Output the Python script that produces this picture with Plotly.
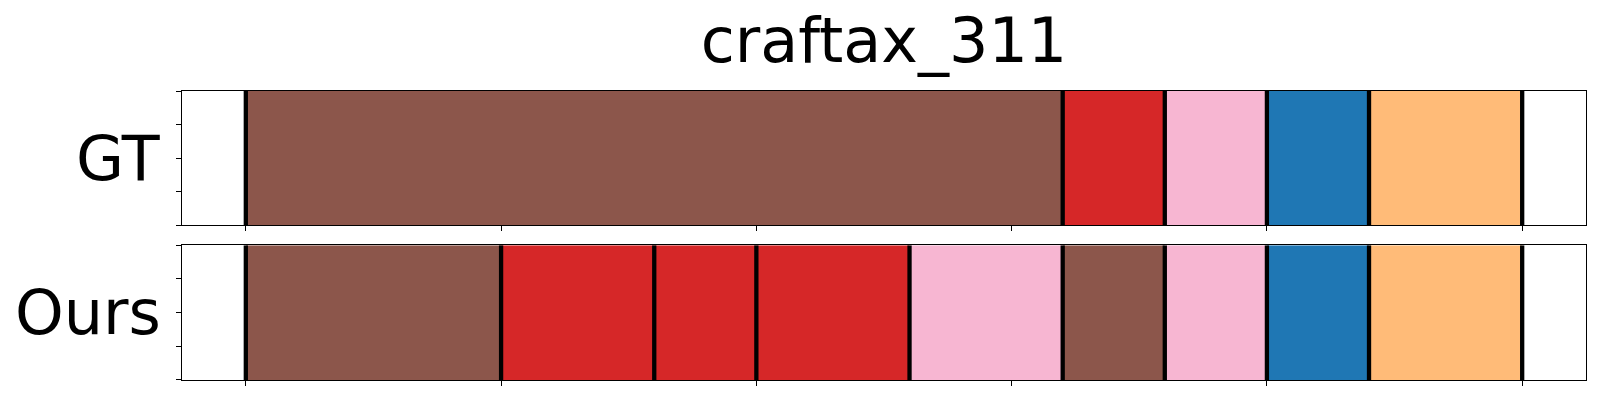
import plotly.graph_objects as go
from plotly.subplots import make_subplots

title_text = "craftax_311"
row_labels = ["GT", "Ours"]

color_map = {
    "brown": "#8c564b",
    "red": "#d62728",
    "pink": "#f7b6d2",
    "blue": "#1f77b4",
    "orange": "#ffbb78",
}

gt_starts = [0, 16, 18, 20, 22]
gt_ends = [16, 18, 20, 22, 25]
gt_labels = ["brown", "red", "pink", "blue", "orange"]

ours_starts = [0, 5, 8, 10, 13, 16, 18, 20, 22]
ours_ends = [5, 8, 10, 13, 16, 18, 20, 22, 25]
ours_labels = ["brown", "red", "red", "red", "pink", "brown", "pink", "blue", "orange"]

x_ticks = [0, 5, 10, 15, 20, 25]
y_ticks = [0, 0.25, 0.5, 0.75, 1.0]

rows = [
    (gt_starts, gt_ends, gt_labels),
    (ours_starts, ours_ends, ours_labels),
]

fig = make_subplots(rows=2, cols=1, vertical_spacing=0.07)

for i, (starts, ends, labels) in enumerate(rows, start=1):
    widths = [e - s for s, e in zip(starts, ends)]
    fig.add_trace(
        go.Bar(
            orientation="h",
            y=[0.5] * len(starts),
            x=widths,
            base=starts,
            width=1,
            marker=dict(color=[color_map[l] for l in labels], line=dict(width=0)),
            showlegend=False,
            hoverinfo="skip",
        ),
        row=i, col=1,
    )
    bounds = list(starts) + [ends[-1]]
    lx, ly = [], []
    for b in bounds:
        lx += [b, b, None]
        ly += [0, 1, None]
    fig.add_trace(
        go.Scatter(
            x=lx, y=ly, mode="lines",
            line=dict(color="black", width=4.3),
            showlegend=False, hoverinfo="skip",
        ),
        row=i, col=1,
    )

axis_common = dict(
    showline=True, mirror=True, linecolor="black", linewidth=1.2,
    showgrid=False, zeroline=False, showticklabels=False,
    ticks="outside", ticklen=5, tickwidth=1, tickcolor="black",
)

fig.update_xaxes(range=[-1.25, 26.25], tickvals=x_ticks, **axis_common)
fig.update_yaxes(range=[0, 1], tickvals=y_ticks, **axis_common)

W, H = 1592, 392

fig.update_layout(
    yaxis=dict(domain=[0.5363, 1.0]),
    yaxis2=dict(domain=[0.0, 0.466]),
    width=W, height=H,
    margin=dict(l=174, r=14, t=83, b=20),
    paper_bgcolor="white", plot_bgcolor="white",
    barmode="overlay",
    font=dict(family="DejaVu Sans", color="black"),
    title=dict(
        text=title_text, x=876 / W, xanchor="center",
        y=1 - 32.5 / H, yanchor="middle",
        font=dict(size=62, family="DejaVu Sans", color="black"),
    ),
)

domains = [(0.5363, 1.0), (0.0, 0.466)]
for label, (d0, d1) in zip(row_labels, domains):
    fig.add_annotation(
        text=label, xref="paper", yref="paper",
        x=0, y=(d0 + d1) / 2, xanchor="right", yanchor="middle",
        xshift=-19, showarrow=False,
        font=dict(size=62, family="DejaVu Sans", color="black"),
    )

fig.write_html("out.html")
